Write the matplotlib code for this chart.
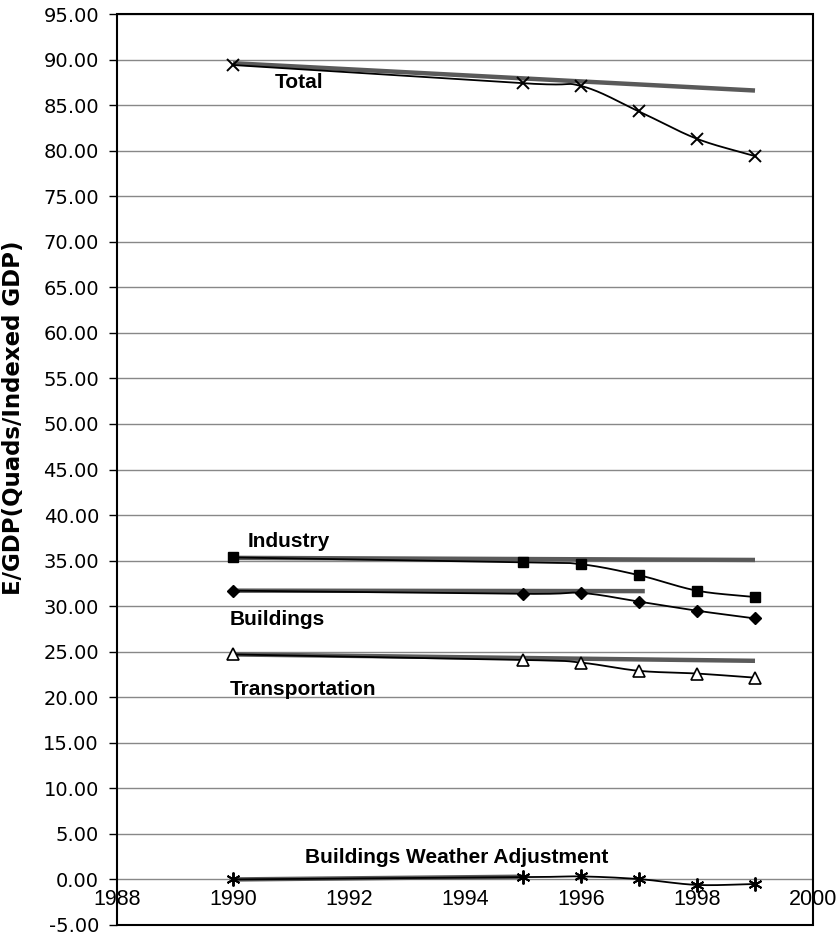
import numpy as np
import matplotlib
matplotlib.use("Agg")
import matplotlib.pyplot as plt
from matplotlib.patches import Rectangle

years = [1990, 1995, 1996, 1997, 1998, 1999]
total = [89.4, 87.4, 87.1, 84.3, 81.3, 79.4]
industry = [35.35, 34.8, 34.6, 33.4, 31.7, 31.0]
buildings = [31.7, 31.35, 31.45, 30.5, 29.5, 28.65]
transportation = [24.7, 24.1, 23.8, 22.9, 22.6, 22.15]
weather = [0.0, 0.25, 0.33, 0.04, -0.6, -0.5]

trend_total = ([1990, 1999], [89.6, 86.6])
trend_industry = ([1990, 1999], [35.3, 35.07])
trend_buildings = ([1990, 1997.1], [31.7, 31.65])
trend_transport = ([1990, 1999], [24.7, 24.0])
trend_weather = ([1990, 1995], [0.0, 0.3])

labels = ["Total", "Industry", "Buildings", "Transportation", "Buildings Weather Adjustment"]
label_pos = [(1990.72, 87.5), (1990.26, 37.1), (1989.95, 28.5), (1989.95, 20.9), (1991.24, 2.4)]

xticks = list(range(1988, 2001, 2))
yticks = list(range(-5, 96, 5))


def smooth(x, y, n=30):
    x = np.asarray(x, float)
    y = np.asarray(y, float)
    px = np.concatenate([[2 * x[0] - x[1]], x, [2 * x[-1] - x[-2]]])
    py = np.concatenate([[2 * y[0] - y[1]], y, [2 * y[-1] - y[-2]]])
    xs, ys = [], []
    for i in range(1, len(px) - 2):
        x0, x1, x2, x3 = px[i - 1], px[i], px[i + 1], px[i + 2]
        y0, y1, y2, y3 = py[i - 1], py[i], py[i + 1], py[i + 2]
        c1x, c1y = x1 + (x2 - x0) / 6, y1 + (y2 - y0) / 6
        c2x, c2y = x2 - (x3 - x1) / 6, y2 - (y3 - y1) / 6
        t = np.linspace(0, 1, n)
        bx = (1 - t) ** 3 * x1 + 3 * (1 - t) ** 2 * t * c1x + 3 * (1 - t) * t ** 2 * c2x + t ** 3 * x2
        by = (1 - t) ** 3 * y1 + 3 * (1 - t) ** 2 * t * c1y + 3 * (1 - t) * t ** 2 * c2y + t ** 3 * y2
        xs.append(bx)
        ys.append(by)
    return np.concatenate(xs), np.concatenate(ys)


fig = plt.figure(figsize=(8.4, 9.4), dpi=100)
ax = fig.add_axes([117 / 840, 1 - 925 / 940, (813 - 117) / 840, (925 - 14) / 940])
ax.set_xlim(1988, 2000)
ax.set_ylim(-5, 95)

for yv in yticks:
    ax.axhline(yv, color="#888888", lw=1.0, zorder=1)

trend_color = "#5a5a5a"
for tx, ty in [trend_total, trend_industry, trend_buildings, trend_transport, trend_weather]:
    ax.plot(tx, ty, color=trend_color, lw=3.2, solid_capstyle="butt", zorder=2)

series = [
    (total, dict(marker="x", ms=9, mew=1.4, mfc="black", mec="black")),
    (industry, dict(marker="s", ms=7, mfc="black", mec="black")),
    (buildings, dict(marker="D", ms=6, mfc="black", mec="black")),
    (transportation, dict(marker="^", ms=8, mfc="white", mec="black", mew=1.2)),
    (weather, dict(marker=(6, 2, 0), ms=10, mew=1.4, mfc="black", mec="black")),
]
for vals, mk in series:
    sx, sy = smooth(years, vals)
    ax.plot(sx, sy, color="black", lw=1.3, zorder=3)
    ax.plot(years, vals, ls="none", zorder=4, **mk)

for txt, (lx, ly) in zip(labels, label_pos):
    ax.text(lx, ly, txt, fontsize=15, fontweight="bold", family="Liberation Sans",
            va="center", ha="left", zorder=5)

for s in ax.spines.values():
    s.set_visible(False)
ax.add_patch(Rectangle((0, 0), 1, 1, transform=ax.transAxes, fill=False,
                       edgecolor="black", lw=1.5, clip_on=False, zorder=6))
ax.set_yticks(yticks)
ax.set_yticklabels([f"{v:.2f}" for v in yticks], family="DejaVu Sans", fontsize=14)
ax.tick_params(axis="y", length=6, width=1, direction="out", pad=7)
ax.set_xticks([])
for xv in xticks:
    ax.text(xv, -1.1, str(xv), fontsize=15.5, family="Liberation Sans",
            ha="center", va="top", zorder=5)
fig.text(14 / 840, 1 - 418 / 940, "E/GDP(Quads/Indexed GDP)", rotation=90,
         fontsize=16.5, fontweight="bold", family="DejaVu Sans",
         ha="center", va="center")

fig.savefig("out.png", dpi=100)
